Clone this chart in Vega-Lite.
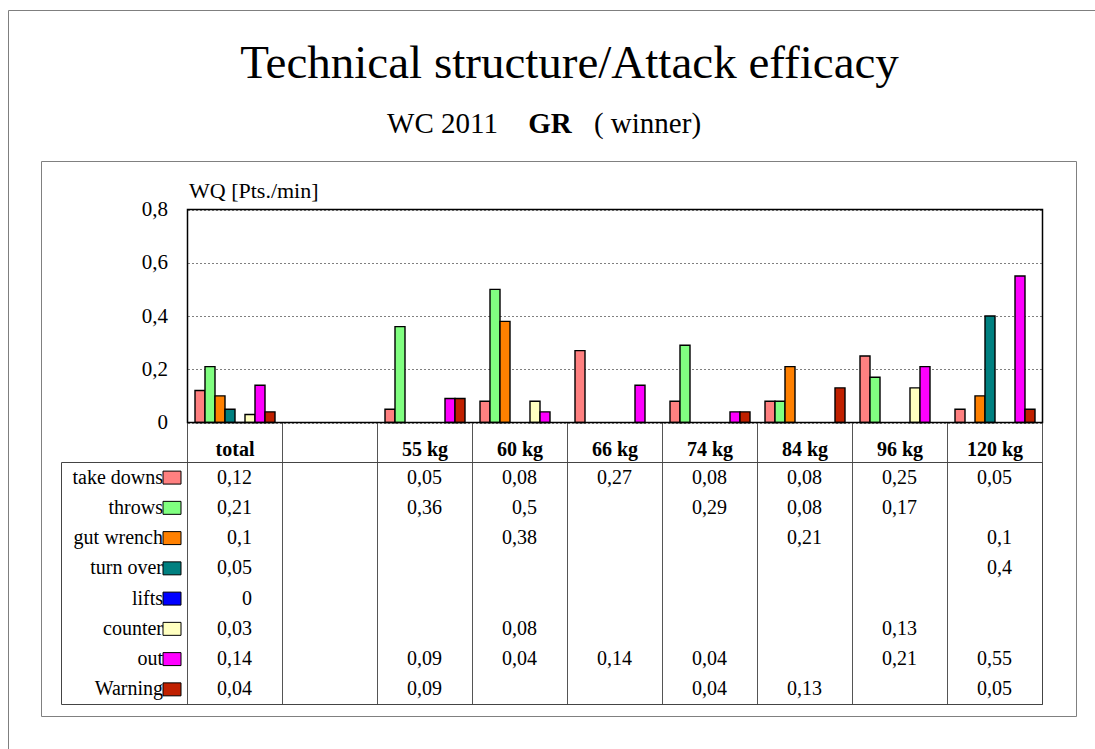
{
  "$schema": "https://vega.github.io/schema/vega-lite/v6.json",
  "width": 1035,
  "height": 555,
  "autosize": {"type": "none"},
  "padding": {"left": 41, "top": 161, "right": 19, "bottom": 33},
  "background": "white",
  "config": {
    "font": "Liberation Serif",
    "view": {"stroke": "#808080", "strokeWidth": 1},
    "locale": {"number": {"decimal": ",", "thousands": ".", "grouping": [3], "currency": ["", " €"]}},
    "axis": {"domain": false, "ticks": false, "grid": false, "labelFont": "Liberation Serif", "titleFont": "Liberation Serif", "labelColor": "black", "titleColor": "black", "titleFontWeight": "normal"},
    "legend": {"labelFont": "Liberation Serif", "titleFont": "Liberation Serif"},
    "text": {"font": "Liberation Serif"}
  },
  "datasets": {
    "wq": [
      {"weight": "total", "technique": "take downs", "wq": 0.12},
      {"weight": "total", "technique": "throws", "wq": 0.21},
      {"weight": "total", "technique": "gut wrench", "wq": 0.1},
      {"weight": "total", "technique": "turn over", "wq": 0.05},
      {"weight": "total", "technique": "lifts", "wq": 0},
      {"weight": "total", "technique": "counter", "wq": 0.03},
      {"weight": "total", "technique": "out", "wq": 0.14},
      {"weight": "total", "technique": "Warning", "wq": 0.04},
      {"weight": "55 kg", "technique": "take downs", "wq": 0.05},
      {"weight": "55 kg", "technique": "throws", "wq": 0.36},
      {"weight": "55 kg", "technique": "out", "wq": 0.09},
      {"weight": "55 kg", "technique": "Warning", "wq": 0.09},
      {"weight": "60 kg", "technique": "take downs", "wq": 0.08},
      {"weight": "60 kg", "technique": "throws", "wq": 0.5},
      {"weight": "60 kg", "technique": "gut wrench", "wq": 0.38},
      {"weight": "60 kg", "technique": "counter", "wq": 0.08},
      {"weight": "60 kg", "technique": "out", "wq": 0.04},
      {"weight": "66 kg", "technique": "take downs", "wq": 0.27},
      {"weight": "66 kg", "technique": "out", "wq": 0.14},
      {"weight": "74 kg", "technique": "take downs", "wq": 0.08},
      {"weight": "74 kg", "technique": "throws", "wq": 0.29},
      {"weight": "74 kg", "technique": "out", "wq": 0.04},
      {"weight": "74 kg", "technique": "Warning", "wq": 0.04},
      {"weight": "84 kg", "technique": "take downs", "wq": 0.08},
      {"weight": "84 kg", "technique": "throws", "wq": 0.08},
      {"weight": "84 kg", "technique": "gut wrench", "wq": 0.21},
      {"weight": "84 kg", "technique": "Warning", "wq": 0.13},
      {"weight": "96 kg", "technique": "take downs", "wq": 0.25},
      {"weight": "96 kg", "technique": "throws", "wq": 0.17},
      {"weight": "96 kg", "technique": "counter", "wq": 0.13},
      {"weight": "96 kg", "technique": "out", "wq": 0.21},
      {"weight": "120 kg", "technique": "take downs", "wq": 0.05},
      {"weight": "120 kg", "technique": "gut wrench", "wq": 0.1},
      {"weight": "120 kg", "technique": "turn over", "wq": 0.4},
      {"weight": "120 kg", "technique": "out", "wq": 0.55},
      {"weight": "120 kg", "technique": "Warning", "wq": 0.05}
    ]
  },
  "data": {"name": "wq"},
  "resolve": {"scale": {"x": "independent", "y": "independent"}},
  "layer": [
    {
      "transform": [{"aggregate": [{"op": "count", "as": "n"}]}],
      "mark": {"type": "rect", "fill": "transparent", "stroke": "#7f7f7f", "strokeWidth": 1},
      "encoding": {
        "x": {"datum": 0, "type": "quantitative", "scale": {"domain": [0, 1], "range": [-32.5, 1080], "nice": false, "zero": false},
              "axis": {"orient": "top", "labels": false, "ticks": false, "domain": false, "grid": false,
                       "title": "Technical structure/Attack efficacy", "titleX": 528, "titleY": -84, "titleAlign": "center", "titleBaseline": "alphabetic",
                       "titleFont": "Liberation Serif", "titleFontSize": 47, "titleFontWeight": "normal", "titleColor": "black"}},
        "x2": {"datum": 1},
        "y": {"datum": 0, "type": "quantitative", "scale": {"domain": [0, 1], "range": [-150.5, 620], "nice": false, "zero": false}, "axis": null},
        "y2": {"datum": 1}
      }
    },
    {
      "transform": [{"aggregate": [{"op": "count", "as": "n"}], "groupby": ["weight"]}],
      "mark": {"type": "rect", "fill": "transparent", "stroke": "#555555", "strokeWidth": 1},
      "encoding": {
        "x": {"field": "weight", "type": "nominal",
              "scale": {"domain": ["total", " ", "55 kg", "60 kg", "66 kg", "74 kg", "84 kg", "96 kg", "120 kg"], "range": [146.5, 1001.5], "paddingInner": 0, "paddingOuter": 0},
              "axis": null},
        "y": {"datum": 0, "type": "quantitative", "scale": {"domain": [0, 1], "range": [261.5, 543.5], "nice": false, "zero": false}, "axis": null},
        "y2": {"datum": 1}
      }
    },
    {
      "transform": [{"aggregate": [{"op": "count", "as": "n"}]}],
      "mark": {"type": "rect", "fill": "transparent", "stroke": "#444444", "strokeWidth": 1},
      "encoding": {
        "x": {"datum": 0, "type": "quantitative", "scale": {"domain": [0, 1], "range": [20.5, 1001.5], "nice": false, "zero": false},
              "axis": {"orient": "top", "labels": false, "ticks": false, "domain": false, "grid": false,
                       "title": "WC 2011", "titleX": 401, "titleY": -29, "titleAlign": "center", "titleBaseline": "alphabetic",
                       "titleFont": "Liberation Serif", "titleFontSize": 29, "titleFontWeight": "normal", "titleColor": "black"}},
        "x2": {"datum": 1},
        "y": {"datum": 0, "type": "quantitative", "scale": {"domain": [0, 1], "range": [301.5, 543.5], "nice": false, "zero": false},
              "axis": {"orient": "left", "labels": false, "ticks": false, "domain": false, "grid": false,
                       "title": "( winner)", "titleX": 606, "titleY": -29, "titleAngle": 0, "titleAlign": "center", "titleBaseline": "alphabetic",
                       "titleFont": "Liberation Serif", "titleFontSize": 29, "titleFontWeight": "normal", "titleColor": "black"}},
        "y2": {"datum": 1}
      }
    },
    {
      "mark": {"type": "bar", "stroke": "black", "strokeWidth": 1.4},
      "encoding": {
        "x": {"field": "weight", "type": "nominal",
              "scale": {"domain": ["total", " ", "55 kg", "60 kg", "66 kg", "74 kg", "84 kg", "96 kg", "120 kg"], "range": [146.5, 1001.5], "paddingInner": 0, "paddingOuter": 0},
              "axis": {"orient": "bottom", "offset": -293.5, "title": null, "domain": false, "ticks": false, "grid": false,
                       "labelAngle": 0, "labelFont": "Liberation Serif", "labelFontSize": 20, "labelFontWeight": "bold", "labelPadding": 26.5, "labelBaseline": "middle",
                       "labelOverlap": false, "labelColor": "black"}},
        "xOffset": {"field": "technique", "type": "nominal",
                    "scale": {"domain": ["take downs", "throws", "gut wrench", "turn over", "lifts", "counter", "out", "Warning"], "paddingInner": 0, "paddingOuter": 0.75}},
        "y": {"field": "wq", "type": "quantitative",
              "scale": {"domain": [0, 0.8], "range": [261.5, 48.5], "nice": false},
              "axis": {"orient": "left", "offset": -146.5, "domain": false, "ticks": false, "grid": true,
                       "gridColor": "#808080", "gridDash": [2, 2], "gridWidth": 1,
                       "values": [0, 0.2, 0.4, 0.6, 0.8], "format": "~g",
                       "labelFont": "Liberation Serif", "labelFontSize": 21, "labelPadding": 20, "labelBaseline": "middle", "labelColor": "black",
                       "title": "WQ [Pts./min]", "titleAngle": 0, "titleAlign": "left", "titleBaseline": "alphabetic",
                       "titleX": 1, "titleY": 36, "titleFont": "Liberation Serif", "titleFontSize": 22, "titleFontWeight": "normal", "titleColor": "black"}},
        "color": {"field": "technique", "type": "nominal",
                  "scale": {"domain": ["take downs", "throws", "gut wrench", "turn over", "lifts", "counter", "out", "Warning"],
                            "range": ["#FF8080", "#80FF80", "#FF8000", "#008080", "#0000FF", "#FFFFC0", "#FF00FF", "#C02000"]},
                  "legend": {"orient": "none", "legendX": 121, "legendY": 306.6, "title": null, "direction": "vertical", "padding": 0,
                             "symbolType": "M-1,-0.72H1V0.72H-1Z", "symbolSize": 324, "symbolStrokeColor": "black", "symbolStrokeWidth": 1, "symbolOpacity": 1,
                             "labelAlign": "right", "labelOffset": -19, "labelFontSize": 20, "labelFont": "Liberation Serif", "labelColor": "black",
                             "labelBaseline": "middle", "rowPadding": 10.25, "labelLimit": 300}}
      }
    },
    {
      "transform": [{"aggregate": [{"op": "count", "as": "n"}]}],
      "mark": {"type": "rect", "fill": "transparent", "stroke": "black", "strokeWidth": 1.5},
      "encoding": {
        "x": {"datum": 0, "type": "quantitative", "scale": {"domain": [0, 1], "range": [146.5, 1001.5], "nice": false, "zero": false},
              "axis": {"orient": "top", "labels": false, "ticks": false, "domain": false, "grid": false,
                       "title": "GR", "titleX": 508.5, "titleY": -29, "titleAlign": "center", "titleBaseline": "alphabetic",
                       "titleFont": "Liberation Serif", "titleFontSize": 29, "titleFontWeight": "bold", "titleColor": "black"}},
        "x2": {"datum": 1},
        "y": {"datum": 0, "type": "quantitative", "scale": {"domain": [0, 1], "range": [48.5, 261.5], "nice": false, "zero": false}, "axis": null},
        "y2": {"datum": 1}
      }
    },
    {
      "mark": {"type": "text", "align": "right", "baseline": "middle", "dx": 17, "fontSize": 20, "font": "Liberation Serif", "color": "black"},
      "encoding": {
        "x": {"field": "weight", "type": "nominal",
              "scale": {"domain": ["total", " ", "55 kg", "60 kg", "66 kg", "74 kg", "84 kg", "96 kg", "120 kg"], "range": [146.5, 1001.5], "paddingInner": 0, "paddingOuter": 0},
              "axis": null},
        "y": {"field": "technique", "type": "nominal",
              "scale": {"domain": ["take downs", "throws", "gut wrench", "turn over", "lifts", "counter", "out", "Warning"], "range": [301.5, 543.5], "paddingInner": 0, "paddingOuter": 0},
              "axis": null},
        "text": {"field": "wq", "type": "quantitative", "format": "~g"}
      }
    }
  ]
}
